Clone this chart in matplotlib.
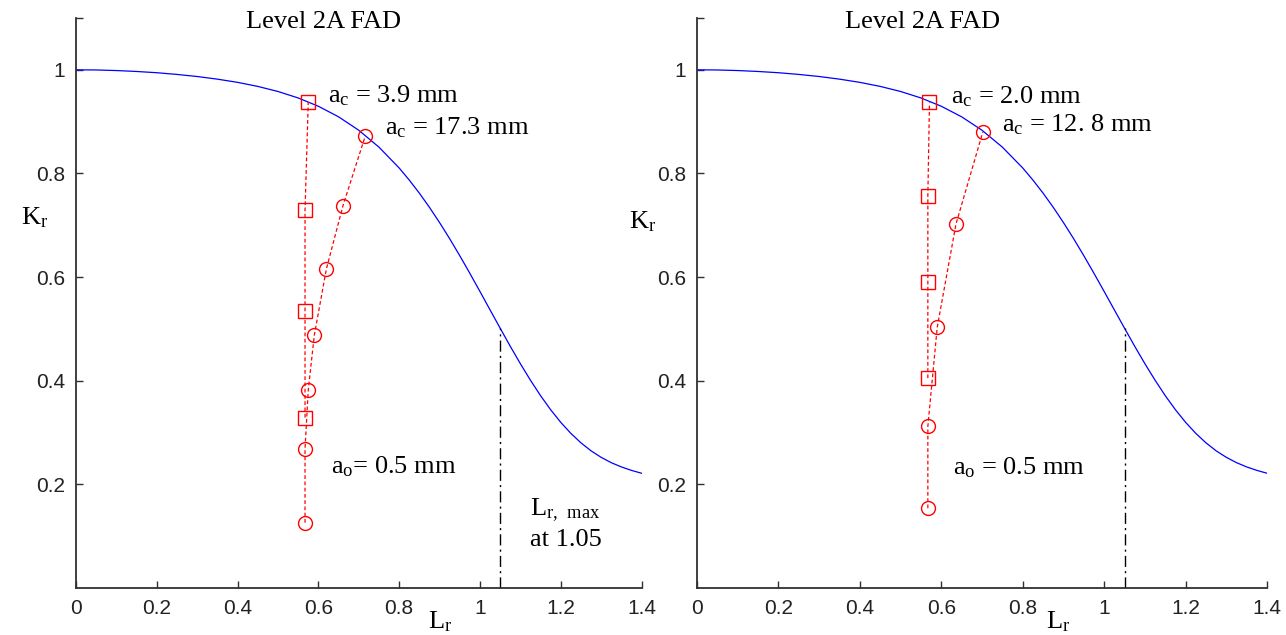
import matplotlib
matplotlib.use('Agg')
import matplotlib.pyplot as plt

# Level 2A failure assessment line
lr_fad = [0.0, 0.05, 0.1, 0.15, 0.2, 0.25, 0.3, 0.35, 0.4, 0.45, 0.5, 0.55, 0.6, 0.65,
          0.7, 0.75, 0.8, 0.825, 0.85, 0.875, 0.9, 0.925, 0.95, 0.975, 1.0, 1.025, 1.05,
          1.075, 1.1, 1.125, 1.15, 1.175, 1.2, 1.225, 1.25, 1.275, 1.3, 1.325, 1.35,
          1.375, 1.4]
kr_fad = [1.0, 0.9997, 0.9986, 0.9968, 0.9944, 0.9911, 0.9871, 0.9820, 0.9758, 0.9680,
          0.9582, 0.9457, 0.9297, 0.9093, 0.8834, 0.8508, 0.8106, 0.7873, 0.7620, 0.7347,
          0.7053, 0.6742, 0.6414, 0.6073, 0.5723, 0.5368, 0.5015, 0.4666, 0.4330, 0.4011,
          0.3713, 0.3441, 0.3198, 0.2985, 0.2802, 0.2648, 0.2522, 0.2419, 0.2337, 0.2270,
          0.2215]
lr_max = 1.05
kr_at_lr_max = 0.5015

# left case: ac = 3.9 mm (squares), ac = 17.3 mm (circles)
lr_sq_1 = [0.567, 0.567, 0.567, 0.575]
kr_sq_1 = [0.329, 0.535, 0.729, 0.938]
lr_ci_1 = [0.567, 0.567, 0.575, 0.590, 0.620, 0.661, 0.716]
kr_ci_1 = [0.126, 0.269, 0.382, 0.488, 0.616, 0.738, 0.872]

# right case: ac = 2.0 mm (squares), ac = 12.8 mm (circles)
lr_sq_2 = [0.567, 0.567, 0.567, 0.571]
kr_sq_2 = [0.405, 0.590, 0.757, 0.937]
lr_ci_2 = [0.567, 0.567, 0.590, 0.636, 0.702]
kr_ci_2 = [0.154, 0.312, 0.503, 0.702, 0.880]

xticks = [0, 0.2, 0.4, 0.6, 0.8, 1.0, 1.2, 1.4]
xticklabels = ['0', '0.2', '0.4', '0.6', '0.8', '1', '1.2', '1.4']
yticks = [0.2, 0.4, 0.6, 0.8, 1.0, 1.1]
yticklabels = ['0.2', '0.4', '0.6', '0.8', '1', '']

SERIF = 'Liberation Serif'
SANS = 'Liberation Sans'
AX_COL = '#303030'

fig = plt.figure(figsize=(12.86, 6.35), dpi=100)
ax1 = fig.add_axes([76 / 1286, 47 / 635, 565.5 / 1286, 570 / 635])
ax2 = fig.add_axes([697 / 1286, 47 / 635, 570 / 1286, 570 / 635])


def draw_panel(ax, lr_sq, kr_sq, lr_ci, kr_ci):
    ax.plot(lr_fad, kr_fad, color='#0000ff', lw=0.9)
    ax.plot([lr_max, lr_max], [0, kr_at_lr_max], color='black', lw=1.0,
            dashes=(8, 3, 1.5, 3))
    ax.plot(lr_sq, kr_sq, color='#ff0000', lw=0.9, dashes=(3, 2),
            marker='s', ms=10.5, mfc='none', mec='#ff0000', mew=1.0)
    ax.plot(lr_ci, kr_ci, color='#ff0000', lw=0.9, dashes=(3, 2),
            marker='o', ms=10, mfc='none', mec='#ff0000', mew=1.0)

    ax.set_xlim(0, 1.4)
    ax.set_ylim(0, 1.1)
    ax.set_xticks(xticks)
    ax.set_xticklabels(xticklabels)
    ax.set_yticks(yticks)
    ax.set_yticklabels(yticklabels)
    ax.tick_params(direction='in', length=5, width=1.0, color=AX_COL,
                   labelcolor='#222222', labelsize=15, pad=8)
    for lbl in ax.get_xticklabels() + ax.get_yticklabels():
        lbl.set_fontfamily(SANS)
    for side in ('top', 'right'):
        ax.spines[side].set_visible(False)
    for side in ('left', 'bottom'):
        ax.spines[side].set_color(AX_COL)
        ax.spines[side].set_linewidth(1.3)
    ax.patch.set_alpha(0)


draw_panel(ax1, lr_sq_1, kr_sq_1, lr_ci_1, kr_ci_1)
draw_panel(ax2, lr_sq_2, kr_sq_2, lr_ci_2, kr_ci_2)

tx = dict(family=SERIF, fontsize=19, color='black', clip_on=False)

ax1.text(0.613, 1.093, 'Level 2A FAD', ha='center', va='center', **tx)
ax1.text(0.624, 0.951, r'$\mathregular{a_c}$ = 3.9 mm', ha='left', va='center', **tx)
ax1.text(0.765, 0.888, r'$\mathregular{a_c}$ = 17.3 mm', ha='left', va='center', **tx)
ax1.text(0.632, 0.234, r'$\mathregular{a_o}$= 0.5 mm', ha='left', va='center', **tx)
ax1.text(1.124, 0.151, r'$\mathregular{L_{r,\ max}}$', ha='left', va='center', **tx)
ax1.text(1.124, 0.093, 'at 1.05', ha='left', va='center', **tx)

ax2.text(0.553, 1.093, 'Level 2A FAD', ha='center', va='center', **tx)
ax2.text(0.623, 0.948, r'$\mathregular{a_c}$ = 2.0 mm', ha='left', va='center', **tx)
ax2.text(0.748, 0.894, r'$\mathregular{a_c}$ = 12. 8 mm', ha='left', va='center', **tx)
ax2.text(0.628, 0.233, r'$\mathregular{a_o}$ = 0.5 mm', ha='left', va='center', **tx)

# axis labels
fig.text(35 / 1286, 1 - 218 / 635, r'$\mathregular{K_r}$', ha='center', va='center',
         family=SERIF, fontsize=19)
fig.text(643 / 1286, 1 - 222 / 635, r'$\mathregular{K_r}$', ha='center', va='center',
         family=SERIF, fontsize=19)
fig.text(440 / 1286, 1 - 622 / 635, r'$\mathregular{L_r}$', ha='center', va='center',
         family=SERIF, fontsize=19)
fig.text(1058 / 1286, 1 - 622 / 635, r'$\mathregular{L_r}$', ha='center', va='center',
         family=SERIF, fontsize=19)

fig.savefig('out.png', dpi=100, facecolor='white')
